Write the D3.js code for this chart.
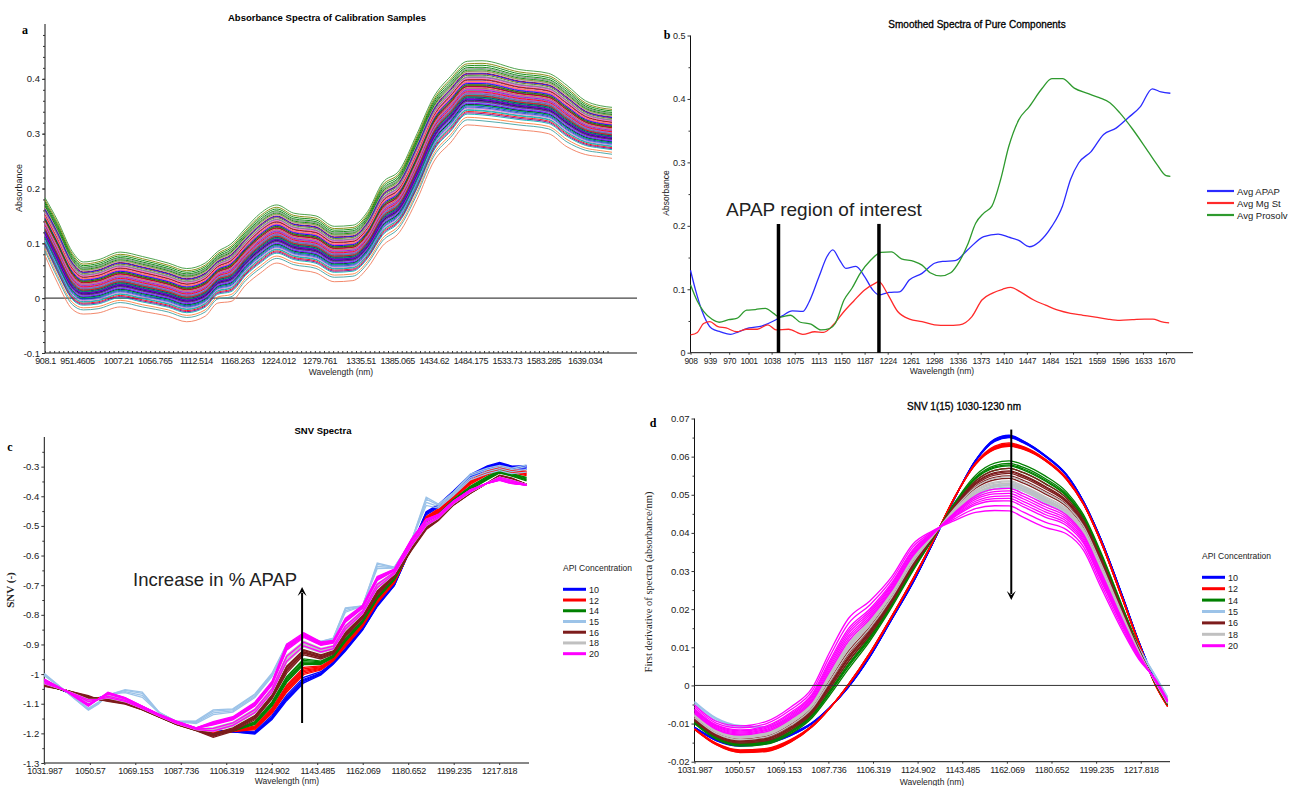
<!DOCTYPE html>
<html>
<head>
<meta charset="utf-8">
<script src="https://cdn.jsdelivr.net/npm/d3@7"></script>
<style>
body { margin: 0; background: #fff; }
text { font-family: "Liberation Sans", Arial, sans-serif; fill: #222; }
.serif { font-family: "Liberation Serif", "Times New Roman", serif; }
</style>
</head>
<body>
<script>
// ---- panel a: calibration spectra (envelopes) ----
var aWave = [908.1, 925, 945, 960, 980, 1010, 1040, 1075, 1100, 1125, 1142, 1160, 1180, 1200, 1222, 1245,
    1275, 1300, 1325, 1345, 1365, 1388, 1412, 1435, 1457, 1480, 1500, 1550, 1590, 1615, 1640, 1660, 1676];
var aTop = [0.183, 0.142, 0.085, 0.066, 0.070, 0.084, 0.076, 0.064, 0.054, 0.064, 0.085, 0.099, 0.128, 0.155, 0.170, 0.155,
    0.150, 0.131, 0.133, 0.158, 0.210, 0.233, 0.300, 0.368, 0.404, 0.432, 0.433, 0.417, 0.410, 0.388, 0.360, 0.351, 0.348];
var aBottom = [0.078, 0.028, -0.020, -0.029, -0.027, -0.016, -0.024, -0.033, -0.043, -0.033, -0.009, -0.006, 0.024, 0.046, 0.064, 0.053,
    0.046, 0.030, 0.032, 0.055, 0.095, 0.120, 0.180, 0.250, 0.283, 0.316, 0.314, 0.307, 0.300, 0.276, 0.262, 0.258, 0.255];
// position of each calibration sample between the bottom and top envelope
var aLevels = [0.55, 0.21, 0.78, 0.42, 0.63, 0.33, 0.88, 0.47, 0.12, 0.70, 0.58, 0.36, 0.81, 0.51, 0.26, 0.66, 0.44, 0.74,
    0.30, 0.60, 0.93, 0.39, 0.53, 0.17, 0.72, 0.49, 0.64, 0.28, 0.84, 0.45, 0.57, 0.35, 0.69, 0.24, 0.76, 0.41, 0.61,
    0.50, 0.86, 0.32, 0.67, 0.46, 0.54, 0.19, 0.79, 0.38, 0.62, 0.43, 0.71, 0.27, 0.59, 0.48, 0.83, 0.34, 0.65, 0.52,
    0.90, 0.40, 0.56, 0.23, 0.75, 0.37, 0.68, 0.44, 0.96, 0.31, 0.60, 0.50, 0.73, 0.08, 0.57, 0.40, 0.80, 0.46, 0.63];
var aPalette = ['#0000ff', '#ff0000', '#008000', '#000000', '#ff00ff', '#00b0b0', '#808080', '#800080', '#ff8040',
    '#004080', '#808000', '#00c060', '#c00000', '#8080ff', '#ff80c0', '#40a0a0', '#a0a0a0', '#8000ff'];
var aEdgeLevels = [0, 1];
var aEdgeColors = ['#f07a5a', '#3c9a3c'];
var aTicks = [908.1, 951.4605, 1007.21, 1056.765, 1112.514, 1168.263, 1224.012, 1279.761, 1335.51, 1385.065,
    1434.62, 1484.175, 1533.73, 1583.285, 1639.034];
var aTickText = ['908.1', '951.4605', '1007.21', '1056.765', '1112.514', '1168.263', '1224.012', '1279.761', '1335.51',
    '1385.065', '1434.62', '1484.175', '1533.73', '1583.285', '1639.034'];

// ---- panel b: pure components ----
var apapWave = [908, 916, 926, 942, 956, 972, 985, 1002, 1022, 1041, 1055, 1071, 1088, 1098, 1114, 1127, 1136, 1147, 1157,
    1173, 1187, 1200, 1210, 1226, 1243, 1259, 1279, 1299, 1312, 1332, 1352, 1378, 1401, 1418, 1434, 1451, 1467, 1487,
    1504, 1517, 1530, 1550, 1570, 1590, 1609, 1629, 1648, 1662, 1677];
var apapAbs = [0.130, 0.099, 0.067, 0.038, 0.033, 0.029, 0.033, 0.039, 0.042, 0.050, 0.058, 0.066, 0.065, 0.080, 0.120,
    0.152, 0.162, 0.146, 0.133, 0.136, 0.120, 0.099, 0.091, 0.095, 0.096, 0.115, 0.125, 0.141, 0.144, 0.145, 0.162,
    0.183, 0.187, 0.182, 0.177, 0.167, 0.175, 0.199, 0.231, 0.273, 0.299, 0.317, 0.344, 0.354, 0.370, 0.388, 0.416,
    0.411, 0.409];
var mgWave = [908, 919, 929, 939, 952, 965, 982, 998, 1015, 1032, 1045, 1065, 1088, 1107, 1121, 1137, 1154, 1170, 1187,
    1203, 1210, 1223, 1240, 1259, 1279, 1299, 1319, 1339, 1359, 1375, 1392, 1408, 1421, 1438, 1458, 1477, 1497, 1517,
    1537, 1557, 1576, 1596, 1616, 1636, 1649, 1662, 1675];
var mgAbs = [0.028, 0.032, 0.046, 0.049, 0.041, 0.039, 0.033, 0.037, 0.037, 0.044, 0.036, 0.037, 0.029, 0.033, 0.032,
    0.044, 0.065, 0.082, 0.099, 0.109, 0.112, 0.094, 0.065, 0.053, 0.049, 0.044, 0.043, 0.044, 0.057, 0.083, 0.094,
    0.100, 0.103, 0.095, 0.083, 0.075, 0.067, 0.062, 0.059, 0.056, 0.053, 0.051, 0.052, 0.053, 0.053, 0.049, 0.047];
var prosWave = [908, 919, 929, 942, 954, 969, 982, 998, 1012, 1028, 1041, 1051, 1068, 1084, 1101, 1117, 1131, 1140, 1154,
    1167, 1180, 1197, 1213, 1230, 1246, 1266, 1279, 1292, 1309, 1325, 1339, 1352, 1365, 1378, 1391, 1405, 1418, 1434,
    1451, 1471, 1487, 1504, 1523, 1543, 1563, 1580, 1596, 1616, 1636, 1656, 1670, 1677];
var prosAbs = [0.107, 0.081, 0.065, 0.053, 0.048, 0.052, 0.054, 0.067, 0.068, 0.070, 0.062, 0.056, 0.059, 0.048, 0.045,
    0.036, 0.038, 0.046, 0.083, 0.102, 0.125, 0.146, 0.158, 0.159, 0.148, 0.144, 0.138, 0.126, 0.121, 0.126, 0.144,
    0.170, 0.204, 0.220, 0.231, 0.273, 0.325, 0.367, 0.388, 0.416, 0.432, 0.432, 0.417, 0.409, 0.402, 0.394, 0.378,
    0.353, 0.325, 0.296, 0.279, 0.278];
var bNames = ['Avg APAP', 'Avg Mg St', 'Avg Prosolv'];
var bColors = ['#2b2bff', '#ff2a2a', '#2e9a2e'];
var bTicks = [908, 939, 970, 1001, 1038, 1075, 1113, 1150, 1187, 1224, 1261, 1298, 1336, 1373, 1410, 1447, 1484,
    1521, 1559, 1596, 1633, 1670];
var regionEdges = [1049, 1210];

// ---- panels c and d: SNV and derivative spectra ----
var conc = ['10', '12', '14', '15', '16', '18', '20'];
var concColors = ['#0000ff', '#ff0000', '#008000', '#9cc3e8', '#7d1c1c', '#c0c0c0', '#ff00ff'];
var cdTicks = [1031.987, 1050.57, 1069.153, 1087.736, 1106.319, 1124.902, 1143.485, 1162.069, 1180.652, 1199.235, 1217.818];

var cWave = [1032, 1041, 1050, 1054, 1058, 1065, 1072, 1079, 1086, 1094, 1101, 1109, 1118, 1125, 1131, 1138,
    1145, 1150, 1155, 1162, 1168, 1175, 1182, 1188, 1193, 1199, 1206, 1213, 1218, 1223, 1229];
var c10 = [-1.03, -1.06, -1.085, -1.08, -1.075, -1.09, -1.11, -1.14, -1.165, -1.185, -1.19, -1.195, -1.2, -1.15, -1.085, -1.025,
    -1.0, -0.965, -0.92, -0.85, -0.77, -0.70, -0.57, -0.455, -0.43, -0.385, -0.33, -0.30, -0.288, -0.30, -0.30];
var c15 = [-1.00, -1.06, -1.12, -1.10, -1.07, -1.055, -1.065, -1.13, -1.16, -1.16, -1.125, -1.12, -1.07, -1.00, -0.90, -0.87,
    -0.89, -0.88, -0.78, -0.77, -0.63, -0.64, -0.55, -0.41, -0.43, -0.39, -0.33, -0.31, -0.30, -0.31, -0.30];
var c16 = [-1.04, -1.055, -1.075, -1.085, -1.09, -1.10, -1.12, -1.145, -1.17, -1.19, -1.21, -1.19, -1.15, -1.08, -0.99, -0.93,
    -0.945, -0.93, -0.87, -0.81, -0.73, -0.67, -0.58, -0.51, -0.48, -0.43, -0.39, -0.355, -0.33, -0.34, -0.36];
var c20 = [-1.019, -1.058, -1.105, -1.085, -1.064, -1.081, -1.109, -1.137, -1.16, -1.182, -1.165, -1.148, -1.10, -1.03, -0.907, -0.867,
    -0.896, -0.89, -0.817, -0.772, -0.676, -0.648, -0.547, -0.48, -0.463, -0.418, -0.379, -0.356, -0.345, -0.356, -0.362];
// each sample: mix between two profiles
var cFrom = [c10, c10, c10, c15, c16, c16, c20];
var cTo = [c16, c16, c16, c20, c20, c20, c16];
var cMix = [
    [0, 0.08, -0.05, 0.15, 0.04],
    [0.3, 0.4, 0.5, 0.35, 0.45, 0.25],
    [0.6, 0.7, 0.8, 0.65, 0.75],
    [0, 0.15, 0.3, -0.1],
    [0, 0.08, -0.08, 0.15, 0.05, 0.2],
    [0.35, 0.45, 0.55, 0.6, 0.5, 0.4, 0.65],
    [0, 0.05, -0.05, 0.1, -0.1, 0.15, 0.02, 0.4, 0.6]
];

var dWave = [1032, 1041, 1051, 1062, 1072, 1081, 1088, 1096, 1105, 1114, 1123, 1131, 1140, 1149, 1157, 1163,
    1169, 1178, 1187, 1194, 1201, 1210, 1217, 1224, 1229];
var d10 = [-0.011, -0.0142, -0.0155, -0.0148, -0.0128, -0.0098, -0.006, -0.0005, 0.0075, 0.0172, 0.027, 0.037, 0.0487,
    0.0590, 0.0645, 0.0655, 0.064, 0.0603, 0.0552, 0.0482, 0.0387, 0.0238, 0.0115, 0.001, -0.0048];
var d12 = [-0.0115, -0.0155, -0.0175, -0.0172, -0.0148, -0.0108, -0.0062, 0.0002, 0.0085, 0.018, 0.028, 0.0375, 0.049,
    0.058, 0.062, 0.0628, 0.062, 0.059, 0.054, 0.0475, 0.038, 0.023, 0.011, 0.0, -0.0055];
var d15 = [-0.0042, -0.0085, -0.0105, -0.0108, -0.0085, -0.0045, 0.002, 0.0095, 0.016, 0.024, 0.032, 0.039, 0.045,
    0.050, 0.0525, 0.053, 0.052, 0.049, 0.0455, 0.040, 0.031, 0.019, 0.010, 0.0025, -0.003];
var d20 = [-0.0066, -0.0108, -0.0122, -0.0112, -0.0078, -0.003, 0.005, 0.0135, 0.019, 0.026, 0.035, 0.0398, 0.0445,
    0.0483, 0.0496, 0.0497, 0.0482, 0.0455, 0.043, 0.0382, 0.0288, 0.0165, 0.0078, 0.0012, -0.0042];
var dFrom = [d10, d12, d12, d15, d12, d12, d20];
var dTo = [d12, d10, d20, d20, d20, d20, d12];
var dMix = [
    [0, 0.1, -0.05, 0.2, 0.05, 0.15],
    [0, 0.1, 0.2, -0.05, 0.05, 0.15, 0.3],
    [0.3, 0.35, 0.4, 0.45, 0.38],
    [0, 0.15, 0.3, 0.1],
    [0.45, 0.5, 0.55, 0.6, 0.52, 0.65],
    [0.62, 0.7, 0.75, 0.8, 0.72, 0.85, 0.78],
    [0, -0.1, 0.05, 0.1, -0.2, -0.3, 0.15, -0.05]
];

var width = 1293,
    height = 786;

var svg = d3.select('body').append('svg')
    .attr('width', width)
    .attr('height', height);

function mix(a, b, t) {
    return a.map((v, i) => v + (b[i] - v) * t);
}

function num(d) {
    return String(Math.round(d * 1000) / 1000);
}

// axis lines, ticks and tick labels of one panel
function axes(g, x, y, o) {
    var x0 = x.range()[0], y0 = y.range()[0];
    g.append('line')
        .attr('x1', x0).attr('x2', o.xEnd)
        .attr('y1', y0).attr('y2', y0)
        .attr('stroke', '#111');
    g.append('line')
        .attr('x1', x0).attr('x2', x0)
        .attr('y1', y0).attr('y2', o.yEnd)
        .attr('stroke', '#111');

    var xa = g.append('g')
        .attr('transform', 'translate(0,' + y0 + ')')
        .call(d3.axisBottom(x).tickValues(o.xTicks).tickSize(o.xTickSize).tickPadding(o.xPad || 3)
            .tickFormat(o.xFmt || num));
    if (o.xMinor) {
        g.append('g')
            .attr('transform', 'translate(0,' + y0 + ')')
            .call(d3.axisBottom(x).tickValues(o.xMinor).tickSize(-2).tickFormat(''))
            .call(s => s.select('.domain').remove());
    }
    var ya = g.append('g')
        .attr('transform', 'translate(' + x0 + ',0)')
        .call(d3.axisLeft(y).tickValues(o.yTicks).tickSize(3).tickPadding(2).tickFormat(num));
    g.append('g')
        .attr('transform', 'translate(' + x0 + ',0)')
        .call(d3.axisLeft(y).tickValues(o.yMinor).tickSize(2).tickFormat(''))
        .call(s => s.select('.domain').remove());

    xa.select('.domain').remove();
    ya.select('.domain').remove();
    xa.selectAll('text')
        .style('font-size', o.xFont + 'px')
        .style('letter-spacing', o.xSpacing + 'px')
        .attr('fill', '#222');
    ya.selectAll('text')
        .style('font-size', o.yFont + 'px')
        .attr('fill', '#222');
    g.selectAll('.tick text').style('font-family', '"Liberation Sans", Arial, sans-serif');
    g.selectAll('.tick line').attr('stroke', '#333');
}

function label(g, txt, x, y, size, opts) {
    opts = opts || {};
    var t = g.append('text')
        .attr('x', x).attr('y', y)
        .attr('text-anchor', opts.anchor || 'middle')
        .style('font-size', size + 'px')
        .style('font-weight', opts.bold ? 'bold' : 'normal')
        .text(txt);
    if (opts.serif) t.attr('class', 'serif');
    if (opts.dark) t.style('fill', '#000');
    if (opts.semi) t.style('stroke', '#000').style('stroke-width', 0.3);
    if (opts.rotate) t.attr('transform', 'rotate(-90,' + x + ',' + y + ')');
    return t;
}

function arrow(g, x, y1, y2) {
    var dir = y2 < y1 ? 1 : -1;
    g.append('line')
        .attr('x1', x).attr('x2', x)
        .attr('y1', y1).attr('y2', y2 + dir * 6)
        .attr('stroke', '#000').attr('stroke-width', 2);
    g.append('path')
        .attr('d', 'M' + (x - 4.5) + ',' + (y2 + dir * 9) + 'L' + x + ',' + y2 + 'L' + (x + 4.5) + ',' + (y2 + dir * 9) +
            'L' + x + ',' + (y2 + dir * 5) + 'Z')
        .attr('fill', '#000');
}

// ---------- panel a ----------
(function() {
    var g = svg.append('g');
    var x = d3.scaleLinear().domain([908.1, 1676]).range([45, 612]);
    var y = d3.scaleLinear().domain([-0.1, 0.5]).range([353, 24]);

    axes(g, x, y, {
        xEnd: 637, yEnd: 24, xFont: 9, xSpacing: -0.4, yFont: 9.5, xTickSize: 0, xPad: 5,
        xTicks: aTicks,
        xFmt: (d, i) => aTickText[i],
        xMinor: d3.range(908.1, 1676, 6.194),
        yTicks: [-0.1, 0, 0.1, 0.2, 0.3, 0.4],
        yMinor: d3.range(-0.1, 0.5, 0.02)
    });

    g.append('line')
        .attr('x1', x(908.1)).attr('x2', 637)
        .attr('y1', y(0)).attr('y2', y(0))
        .attr('stroke', '#444').attr('stroke-width', 1.2);

    var line = d3.line()
        .x((d, i) => x(aWave[i]))
        .y(d => y(d))
        .curve(d3.curveMonotoneX);

    g.selectAll('.edge')
        .data(aEdgeLevels).enter()
        .append('path')
        .attr('class', 'edge')
        .attr('fill', 'none')
        .attr('stroke', (d, i) => aEdgeColors[i])
        .attr('stroke-width', 0.9)
        .attr('d', d => line(mix(aBottom, aTop, d)));

    g.selectAll('.sample')
        .data(aLevels).enter()
        .append('path')
        .attr('class', 'sample')
        .attr('fill', 'none')
        .attr('stroke', (d, i) => aPalette[i % aPalette.length])
        .attr('stroke-width', 0.9)
        .attr('d', d => line(mix(aBottom, aTop, d)));

    label(g, 'Absorbance Spectra of Calibration Samples', 327, 21, 9.5, {bold: true, dark: true});
    label(g, 'a', 25, 34, 12, {bold: true, serif: true, dark: true});
    label(g, 'Absorbance', 22, 188, 9, {rotate: true});
    label(g, 'Wavelength (nm)', 341, 375, 8.5);
})();

// ---------- panel b ----------
(function() {
    var g = svg.append('g');
    var x = d3.scaleLinear().domain([908, 1670]).range([690.5, 1166]);
    var y = d3.scaleLinear().domain([0, 0.5]).range([352.7, 35.5]);

    axes(g, x, y, {
        xEnd: 1193, yEnd: 35.5, xFont: 8.5, xSpacing: -0.4, yFont: 9, xTickSize: 2,
        xTicks: bTicks,
        yTicks: [0, 0.1, 0.2, 0.3, 0.4, 0.5],
        yMinor: d3.range(0.05, 0.5, 0.1)
    });

    var line = d3.line()
        .x(d => x(d[0]))
        .y(d => y(d[1]))
        .curve(d3.curveMonotoneX);

    var series = [
        d3.zip(apapWave, apapAbs),
        d3.zip(mgWave, mgAbs),
        d3.zip(prosWave, prosAbs)
    ];

    g.selectAll('.comp')
        .data(series).enter()
        .append('path')
        .attr('class', 'comp')
        .attr('fill', 'none')
        .attr('stroke', (d, i) => bColors[i])
        .attr('stroke-width', 1.3)
        .attr('d', line);

    g.selectAll('.edgebar')
        .data(regionEdges).enter()
        .append('line')
        .attr('x1', d => x(d)).attr('x2', d => x(d))
        .attr('y1', y(0)).attr('y2', y(0.203))
        .attr('stroke', '#000').attr('stroke-width', 3.5);

    label(g, 'APAP region of interest', 726, 216, 19, {anchor: 'start'});

    var lg = g.append('g').attr('transform', 'translate(1207,191)');
    bNames.forEach(function(name, i) {
        lg.append('line')
            .attr('x1', 0).attr('x2', 27)
            .attr('y1', i * 12).attr('y2', i * 12)
            .attr('stroke', bColors[i]).attr('stroke-width', 2.2);
        lg.append('text')
            .attr('x', 30).attr('y', i * 12 + 3.5)
            .style('font-size', '9.5px')
            .text(name);
    });

    label(g, 'Smoothed Spectra of Pure Components', 977, 28, 10, {dark: true, semi: true});
    label(g, 'b', 667, 39, 12, {bold: true, serif: true, dark: true});
    label(g, 'Absorbance', 669, 193, 8.5, {rotate: true});
    label(g, 'Wavelength (nm)', 942, 374, 8.5);
})();

// concentration legend used by c and d
function concLegend(g, x0, y0, step) {
    label(g, 'API Concentration', x0, y0 - 18, 8.5, {anchor: 'start'});
    conc.forEach(function(c, i) {
        g.append('line')
            .attr('x1', x0).attr('x2', x0 + 23)
            .attr('y1', y0 + i * step).attr('y2', y0 + i * step)
            .attr('stroke', concColors[i]).attr('stroke-width', 3);
        g.append('text')
            .attr('x', x0 + 26).attr('y', y0 + i * step + 3.5)
            .style('font-size', '9px')
            .text(c);
    });
}

// ---------- panel c ----------
(function() {
    var g = svg.append('g');
    var x = d3.scaleLinear().domain([1031.987, 1230]).range([44.3, 529]);
    var y = d3.scaleLinear().domain([-1.3, -0.2]).range([763, 437]);

    axes(g, x, y, {
        xEnd: 529, yEnd: 437, xFont: 9, xSpacing: -0.3, yFont: 9.5, xTickSize: 2,
        xTicks: cdTicks,
        yTicks: d3.range(-13, -2).map(d => d / 10),
        yMinor: d3.range(-12.5, -2, 1).map(d => d / 10)
    });

    var line = d3.line()
        .x((d, i) => x(cWave[i]))
        .y(d => y(d));

    conc.forEach(function(c, k) {
        g.selectAll('.g' + c)
            .data(cMix[k]).enter()
            .append('path')
            .attr('fill', 'none')
            .attr('stroke', concColors[k])
            .attr('stroke-width', 1.3)
            .attr('d', t => line(mix(cFrom[k], cTo[k], t)));
    });

    arrow(g, x(1137.3), y(-1.165), y(-0.706));
    label(g, 'Increase in % APAP', 133, 586, 18.5, {anchor: 'start'});

    concLegend(g, 563, 589.3, 10.73);

    label(g, 'SNV Spectra', 323, 434, 9.5, {bold: true, dark: true});
    label(g, 'c', 10, 451, 12, {bold: true, serif: true, dark: true});
    label(g, 'SNV (-)', 14, 590, 11, {rotate: true, serif: true, bold: true});
    label(g, 'Wavelength (nm)', 287, 784, 8.5);
})();

// ---------- panel d ----------
(function() {
    var g = svg.append('g');
    var x = d3.scaleLinear().domain([1031.987, 1230]).range([694.5, 1170]);
    var y = d3.scaleLinear().domain([-0.02, 0.07]).range([761.7, 418.5]);

    axes(g, x, y, {
        xEnd: 1170, yEnd: 418.5, xFont: 9, xSpacing: -0.3, yFont: 9.5, xTickSize: 2,
        xTicks: cdTicks,
        yTicks: d3.range(-2, 8).map(d => d / 100),
        yMinor: d3.range(-1.5, 7, 1).map(d => d / 100)
    });

    var line = d3.line()
        .x((d, i) => x(dWave[i]))
        .y(d => y(d))
        .curve(d3.curveMonotoneX);

    conc.forEach(function(c, k) {
        g.selectAll('.g' + c)
            .data(dMix[k]).enter()
            .append('path')
            .attr('fill', 'none')
            .attr('stroke', concColors[k])
            .attr('stroke-width', 1.3)
            .attr('d', t => line(mix(dFrom[k], dTo[k], t)));
    });

    g.append('line')
        .attr('x1', x(1031.987)).attr('x2', 1170)
        .attr('y1', y(0)).attr('y2', y(0))
        .attr('stroke', '#333');

    arrow(g, x(1163.9), y(0.0671), y(0.0224));

    concLegend(g, 1202, 577.3, 11.4);

    label(g, 'SNV 1(15) 1030-1230 nm', 964, 410, 10, {dark: true, semi: true});
    label(g, 'd', 653, 427, 12, {bold: true, serif: true, dark: true});
    label(g, 'First derivative of spectra (absorbance/nm)', 652, 582, 10.5, {rotate: true, serif: true});
    label(g, 'Wavelength (nm)', 932, 785, 8.5);
})();
</script>
</body>
</html>
